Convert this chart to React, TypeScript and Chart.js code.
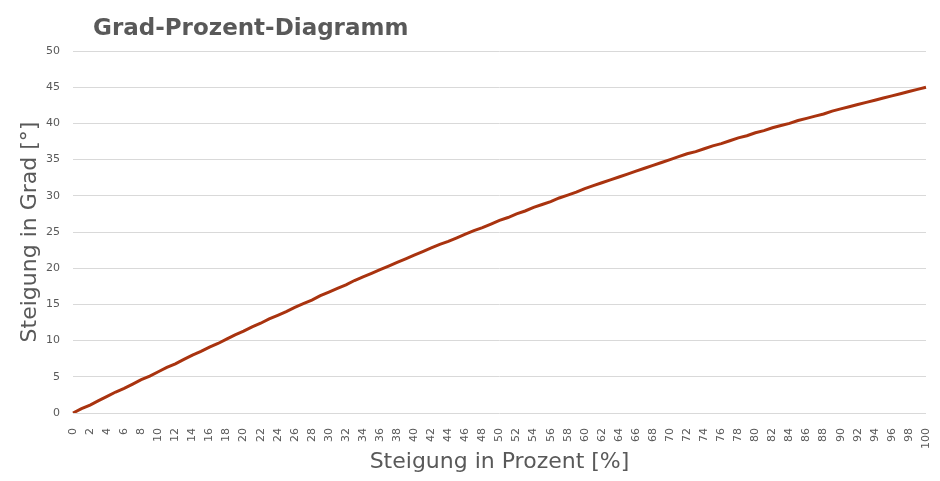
import React, { useEffect, useRef } from 'react';
import Chart from 'chart.js/auto';

// Steigung in Prozent (x) und zugehöriger Winkel in Grad (y)
const percent = [
  0, 1, 2, 3, 4, 5, 6, 7, 8, 9, 10, 11, 12, 13, 14, 15, 16, 17, 18, 19, 20,
  21, 22, 23, 24, 25, 26, 27, 28, 29, 30, 31, 32, 33, 34, 35, 36, 37, 38, 39, 40,
  41, 42, 43, 44, 45, 46, 47, 48, 49, 50, 51, 52, 53, 54, 55, 56, 57, 58, 59, 60,
  61, 62, 63, 64, 65, 66, 67, 68, 69, 70, 71, 72, 73, 74, 75, 76, 77, 78, 79, 80,
  81, 82, 83, 84, 85, 86, 87, 88, 89, 90, 91, 92, 93, 94, 95, 96, 97, 98, 99, 100,
];

const degrees = [
  0, 0.6, 1.1, 1.7, 2.3, 2.9, 3.4, 4.0, 4.6, 5.1, 5.7,
  6.3, 6.8, 7.4, 8.0, 8.5, 9.1, 9.6, 10.2, 10.8, 11.3,
  11.9, 12.4, 13.0, 13.5, 14.0, 14.6, 15.1, 15.6, 16.2, 16.7,
  17.2, 17.7, 18.3, 18.8, 19.3, 19.8, 20.3, 20.8, 21.3, 21.8,
  22.3, 22.8, 23.3, 23.7, 24.2, 24.7, 25.2, 25.6, 26.1, 26.6,
  27.0, 27.5, 27.9, 28.4, 28.8, 29.2, 29.7, 30.1, 30.5, 31.0,
  31.4, 31.8, 32.2, 32.6, 33.0, 33.4, 33.8, 34.2, 34.6, 35.0,
  35.4, 35.8, 36.1, 36.5, 36.9, 37.2, 37.6, 38.0, 38.3, 38.7,
  39.0, 39.4, 39.7, 40.0, 40.4, 40.7, 41.0, 41.3, 41.7, 42.0,
  42.3, 42.6, 42.9, 43.2, 43.5, 43.8, 44.1, 44.4, 44.7, 45.0,
];

const chartTitle = 'Grad-Prozent-Diagramm';
const xTitle = 'Steigung in Prozent [%]';
const yTitle = 'Steigung in Grad [°]';

const FONT = "'DejaVu Sans', sans-serif";
const TEXT = '#595959';

// draws the heading in the top-left corner, like the spreadsheet chart
const headingPlugin = {
  id: 'heading',
  afterDraw(chart: Chart) {
    const { ctx } = chart;
    ctx.save();
    ctx.font = `bold 23px ${FONT}`;
    ctx.fillStyle = TEXT;
    ctx.textBaseline = 'alphabetic';
    ctx.textAlign = 'left';
    ctx.fillText(chartTitle, 93, 35);
    ctx.restore();
  },
};

const App: React.FC = () => {
  const canvasRef = useRef<HTMLCanvasElement>(null);

  useEffect(() => {
    document.body.style.margin = '0';
    if (!canvasRef.current) return;

    const chart = new Chart(canvasRef.current, {
      type: 'line',
      data: {
        labels: percent.map(String),
        datasets: [
          {
            data: degrees,
            borderColor: '#A9330F',
            borderWidth: 3,
            pointRadius: 0,
            tension: 0,
          },
        ],
      },
      options: {
        animation: false,
        responsive: false,
        layout: { padding: { top: 51, right: 14, left: 0, bottom: 0 } },
        plugins: {
          legend: { display: false },
          title: { display: false },
          tooltip: { enabled: false },
        },
        scales: {
          x: {
            grid: { display: false },
            border: { display: false },
            afterFit: (scale: any) => {
              scale.height = 68;
              scale.paddingLeft = 0;
              scale.paddingRight = 0;
            },
            ticks: {
              autoSkip: false,
              maxRotation: 90,
              minRotation: 90,
              padding: 7,
              color: TEXT,
              font: { family: FONT, size: 11 },
              callback: (_v: any, i: number) => (i % 2 === 0 ? percent[i] : ''),
            },
            title: {
              display: true,
              text: xTitle,
              color: TEXT,
              font: { family: FONT, size: 22 },
              padding: { top: 0, bottom: 6 },
            },
          },
          y: {
            min: 0,
            max: 50,
            grid: { color: '#d9d9d9', lineWidth: 1, drawTicks: false },
            border: { display: false },
            afterFit: (scale: any) => {
              scale.width = 73;
            },
            ticks: {
              stepSize: 5,
              padding: 13,
              color: TEXT,
              font: { family: FONT, size: 11 },
            },
            title: {
              display: true,
              text: yTitle,
              color: TEXT,
              font: { family: FONT, size: 22 },
              padding: { top: 17, bottom: 0 },
            },
          },
        },
      },
      plugins: [headingPlugin],
    });

    return () => chart.destroy();
  }, []);

  return <canvas ref={canvasRef} width={940} height={481} style={{ display: 'block' }} />;
};

export default App;
